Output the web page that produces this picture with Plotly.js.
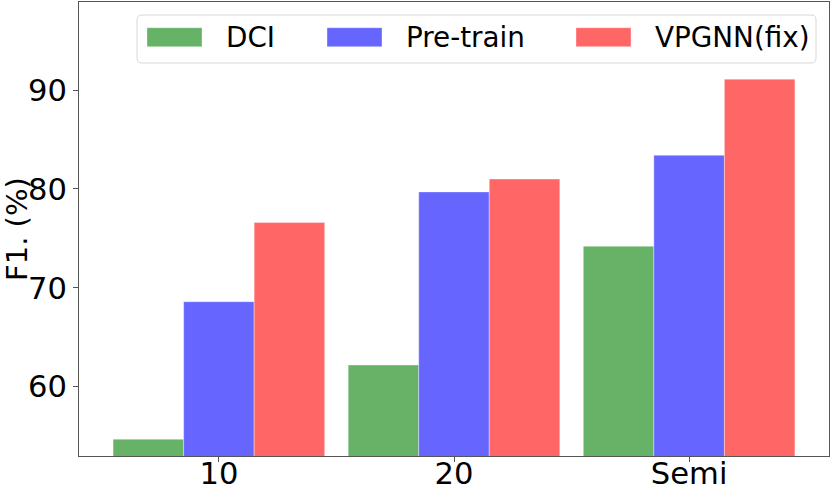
<!DOCTYPE html>
<html>
<head>
<meta charset="utf-8">
<script src="https://cdn.plot.ly/plotly-3.0.1.min.js"></script>
<style>
  html, body { margin: 0; padding: 0; background: #fff; }
  #plot { width: 831px; height: 493px; }
</style>
</head>
<body>
<div id="plot"></div>
<script>
// chart data
//
const categories = ['10', '20', 'Semi'];
const seriesNames = ['DCI', 'Pre-train', 'VPGNN(fix)'];
const dciValues = [54.7, 62.2, 74.2];
const pretrainValues = [68.6, 79.7, 83.4];
const vpgnnValues = [76.6, 81.0, 91.1];
const yTicks = [60, 70, 80, 90];

const seriesValues = [dciValues, pretrainValues, vpgnnValues];
const seriesColors = ['#66b266', '#6666ff', '#ff6666'];

// plot area in pixels (used for placing the hand-made legend)
//
const W = 831, H = 493;
const M = { l: 79, r: 2, t: 2, b: 37 };
const plotW = W - M.l - M.r;
const plotH = H - M.t - M.b;
const px = (x) => (x - M.l) / plotW;
const py = (y) => (H - M.b - y) / plotH;

const FONT = 'DejaVu Sans, sans-serif';

// one bar trace per series
//
const traces = seriesNames.map((name, i) => ({
  type: 'bar',
  name: name,
  x: categories,
  y: seriesValues[i],
  marker: { color: seriesColors[i], line: { width: 0.6, color: 'rgba(255,255,255,0.6)' } },
  showlegend: false,
  hoverinfo: 'none'
}));

// legend frame with rounded corners
//
function roundedBox(x0, y0, x1, y1, r) {
  const rx = r / plotW, ry = r / plotH;
  const a = px(x0), b = px(x1), top = py(y0), bot = py(y1);
  return `M${a + rx},${bot} L${b - rx},${bot} Q${b},${bot} ${b},${bot + ry} ` +
         `L${b},${top - ry} Q${b},${top} ${b - rx},${top} ` +
         `L${a + rx},${top} Q${a},${top} ${a},${top - ry} ` +
         `L${a},${bot + ry} Q${a},${bot} ${a + rx},${bot} Z`;
}

const shapes = [{
  type: 'path', xref: 'paper', yref: 'paper',
  path: roundedBox(137, 15, 816, 63, 5),
  fillcolor: 'rgba(255,255,255,0.8)',
  line: { color: '#d8d8d8', width: 1 }
}];

// y axis title, placed by hand so it keeps clear of the tick labels
//
const annotations = [{
  xref: 'paper', yref: 'paper',
  x: px(17), y: 0.5,
  xanchor: 'center', yanchor: 'middle',
  textangle: -90,
  text: 'F1. (%)', showarrow: false,
  font: { family: FONT, size: 29, color: '#000' }
}];

const patchX = [147, 327, 576];
seriesNames.forEach((name, i) => {
  shapes.push({
    type: 'rect', xref: 'paper', yref: 'paper',
    x0: px(patchX[i]), x1: px(patchX[i] + 55),
    y0: py(46.7), y1: py(27.7),
    fillcolor: seriesColors[i],
    line: { width: 0.6, color: 'rgba(255,255,255,0.6)' }
  });
  annotations.push({
    xref: 'paper', yref: 'paper',
    x: px(patchX[i] + 77), y: py(37.5),
    xanchor: 'left', yanchor: 'middle',
    text: name, showarrow: false,
    font: { family: FONT, size: 27.8, color: '#000' }
  });
});

const axisLine = '#555';

const layout = {
  width: W,
  height: H,
  margin: M,
  paper_bgcolor: '#fff',
  plot_bgcolor: '#fff',
  barmode: 'group',
  bargap: 0.1,
  bargroupgap: 0,
  font: { family: FONT, color: '#000' },
  xaxis: {
    type: 'category',
    range: [-0.595, 2.595],
    showline: true, mirror: true, linecolor: axisLine, linewidth: 1,
    ticks: 'outside', ticklen: 5, tickcolor: axisLine,
    ticklabelstandoff: -15,
    showgrid: false, zeroline: false,
    tickfont: { family: FONT, size: 30.6, color: '#000' }
  },
  yaxis: {
    range: [53.0, 98.9],
    tickvals: yTicks,
    showline: true, mirror: true, linecolor: axisLine, linewidth: 1,
    ticks: 'outside', ticklen: 5, tickcolor: axisLine,
    showgrid: false, zeroline: false,
    tickfont: { family: FONT, size: 30.6, color: '#000' }
  },
  shapes: shapes,
  annotations: annotations
};

Plotly.newPlot('plot', traces, layout, { displayModeBar: false, staticPlot: true });
</script>
</body>
</html>
